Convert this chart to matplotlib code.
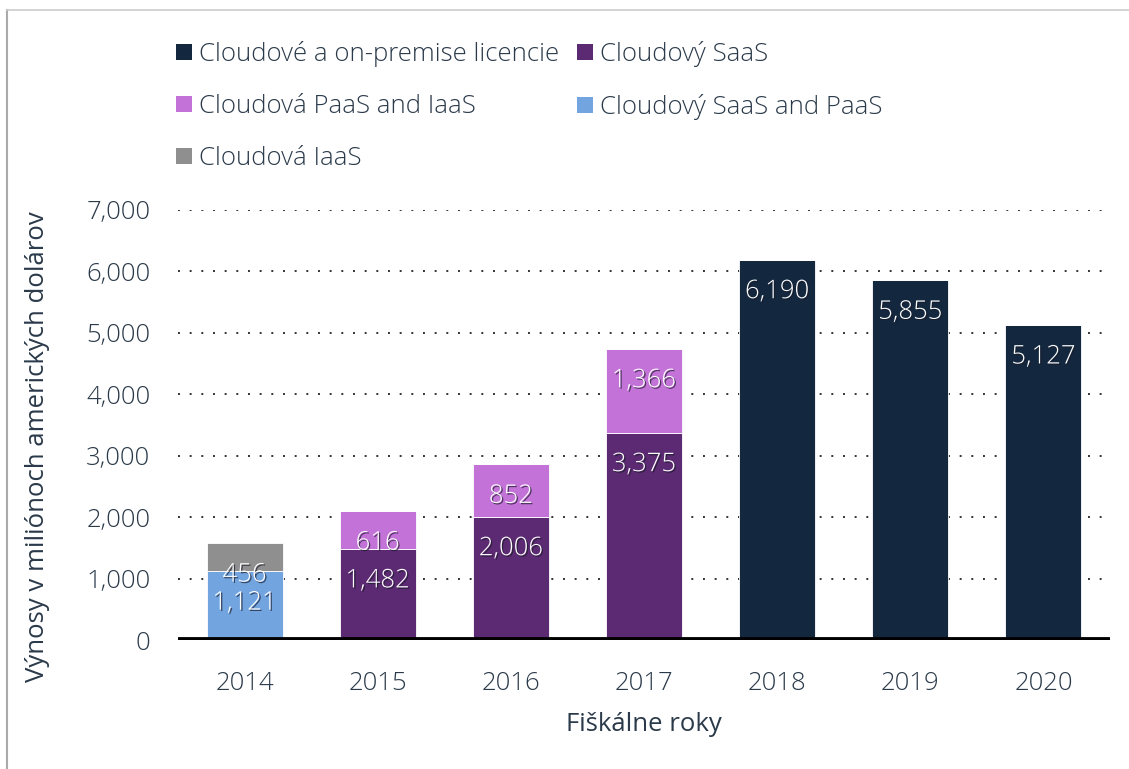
import numpy as np
import matplotlib.pyplot as plt
import matplotlib.patheffects as pe
from matplotlib.patches import Patch
from matplotlib.lines import Line2D

plt.rcParams['font.family'] = ['Open Sans', 'DejaVu Sans']
plt.rcParams['font.weight'] = 'light'

years = ['2014', '2015', '2016', '2017', '2018', '2019', '2020']
licencie = [0, 0, 0, 0, 6190, 5855, 5127]
saas = [0, 1482, 2006, 3375, 0, 0, 0]
paas_iaas = [0, 616, 852, 1366, 0, 0, 0]
saas_paas = [1121, 0, 0, 0, 0, 0, 0]
iaas = [456, 0, 0, 0, 0, 0, 0]

series = [
    ('Cloudové a on-premise licencie', licencie, '#13283f'),
    ('Cloudový SaaS', saas, '#5c2a72'),
    ('Cloudová PaaS and IaaS', paas_iaas, '#c372d8'),
    ('Cloudový SaaS and PaaS', saas_paas, '#72a5e0'),
    ('Cloudová IaaS', iaas, '#8f8f8f'),
]
# stacking order from bottom
stack_order = [0, 1, 3, 2, 4]

text_col = '#2b3a4a'
fs = 18.5

fig = plt.figure(figsize=(11.29, 7.69), dpi=100)
ax = fig.add_axes([178 / 1129, 1 - 640 / 769, 932 / 1129, 430 / 769])

x = np.arange(len(years))
bottom = np.zeros(len(years))
shadow = [pe.SimplePatchShadow(offset=(1, -1), shadow_rgbFace='#1a1a2a', alpha=0.7), pe.Normal()]
for i in stack_order:
    name, vals, col = series[i]
    vals = np.array(vals, dtype=float)
    ax.bar(x, vals, 0.57, bottom=bottom, color=col, edgecolor='white', linewidth=0.6, zorder=3)
    for xi, v, b in zip(x, vals, bottom):
        if v > 0:
            ax.annotate(f'{int(v):,}', (xi, b + v), xytext=(0, -23), textcoords='offset points',
                        ha='center', va='center', color='white', fontsize=fs,
                        path_effects=shadow, zorder=5)
    bottom += vals

ax.set_xlim(-0.5, len(years) - 0.5)
ax.set_ylim(0, 7000)
ax.set_yticks(np.arange(0, 7001, 1000))
ax.set_yticklabels([f'{v:,}' for v in range(0, 7001, 1000)])
ax.set_xticks(x)
ax.set_xticklabels(years)
ax.tick_params(length=0, labelsize=fs, colors=text_col)
ax.tick_params(axis='y', pad=20)
ax.tick_params(axis='x', pad=22)
for s in ax.spines.values():
    s.set_visible(False)
ax.yaxis.grid(True, linestyle=(0, (1, 5)), color='#333333', linewidth=1.4, zorder=0)
ax.set_axisbelow(True)
ax.axhline(0, color='black', linewidth=4.2, zorder=4)

ax.set_ylabel('Výnosy v miliónoch amerických dolárov', fontsize=fs, color=text_col)
ax.yaxis.set_label_coords(-0.137, 0.45)
ax.set_xlabel('Fiškálne roky', fontsize=fs, color=text_col, labelpad=12)

handles = [Patch(facecolor=series[i][2], label=series[i][0]) for i in [0, 2, 4, 1, 3]]
fig.legend(handles=handles, loc='upper left', bbox_to_anchor=(153 / 1129, 1 - 18 / 769), ncol=2,
           frameon=False, fontsize=fs, labelcolor=text_col, handlelength=0.6, handleheight=0.6,
           handletextpad=0.3, columnspacing=0.7, labelspacing=1.05)

# outer frame lines (left and top)
fig.add_artist(Line2D([7 / 1129, 7 / 1129], [0, 1 - 10 / 769], color='#aaaaaa', linewidth=1.5))
fig.add_artist(Line2D([7 / 1129, 1], [1 - 10 / 769, 1 - 10 / 769], color='#cccccc', linewidth=1.2))

fig.savefig('out.png', dpi=100)
